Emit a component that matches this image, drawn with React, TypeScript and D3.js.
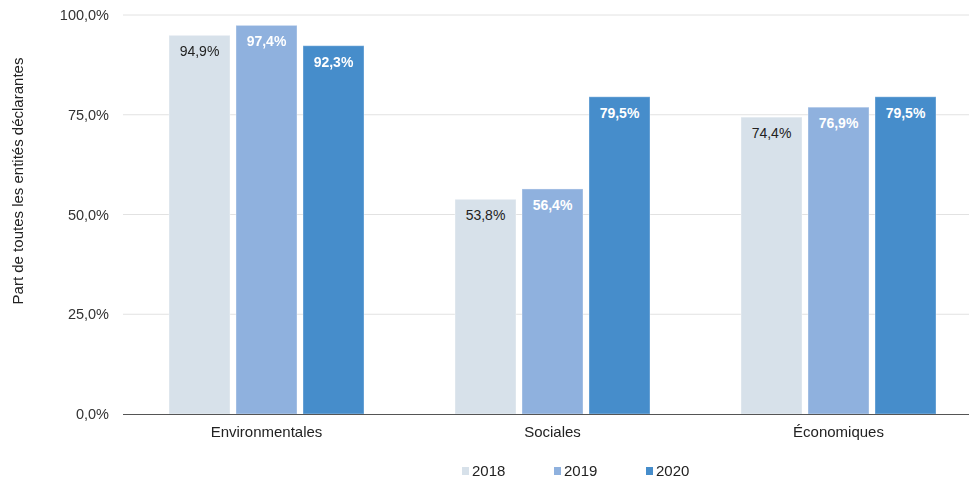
import React, { useEffect, useRef } from 'react'
import * as d3 from 'd3'

const categories = ['Environmentales', 'Sociales', 'Économiques']
const years = ['2018', '2019', '2020']
const values2018 = [94.9, 53.8, 74.4]
const values2019 = [97.4, 56.4, 76.9]
const values2020 = [92.3, 79.5, 79.5]
const yTicks = [0, 25, 50, 75, 100]

const colors = ['#d7e1ea', '#8fb1de', '#468dcb']
const labelColors = ['#222', '#fff', '#fff']

const fmt = (v: number) => v.toFixed(1).replace('.', ',') + '%'

const App: React.FC = () => {
  const svgRef = useRef<SVGSVGElement | null>(null)

  useEffect(() => {
    if (!svgRef.current) return
    const svg = d3.select(svgRef.current)
    svg.selectAll('*').remove()

    const width = 969
    const height = 478
    const series = [values2018, values2019, values2020]

    const y = d3.scaleLinear().domain([0, 100]).range([414, 15])
    const x0 = d3.scaleBand<string>().domain(categories).range([123.5, 981.5])
    const x1 = d3
      .scaleBand<string>()
      .domain(years)
      .range([45.5, 240.5])
      .paddingInner(6 / 67)

    svg
      .attr('width', width)
      .attr('height', height)
      .style('font-family', 'Liberation Sans, Arial, sans-serif')

    // gridlines
    svg
      .append('g')
      .selectAll('line')
      .data(yTicks.filter((t) => t > 0))
      .join('line')
      .attr('x1', 123)
      .attr('x2', width)
      .attr('y1', (d) => y(d))
      .attr('y2', (d) => y(d))
      .attr('stroke', '#e2e2e2')
      .attr('stroke-width', 1)

    // tick labels
    svg
      .append('g')
      .selectAll('text')
      .data(yTicks)
      .join('text')
      .attr('x', 109)
      .attr('y', (d) => y(d))
      .attr('dy', '0.35em')
      .attr('text-anchor', 'end')
      .attr('font-size', 14.5)
      .attr('fill', '#333')
      .text((d) => fmt(d))

    // y axis title
    svg
      .append('text')
      .attr('transform', 'translate(23,181) rotate(-90)')
      .attr('text-anchor', 'middle')
      .attr('font-size', 15)
      .attr('fill', '#222')
      .text('Part de toutes les entités déclarantes')

    // bars
    const groups = svg
      .append('g')
      .selectAll('g')
      .data(categories)
      .join('g')
      .attr('transform', (d) => `translate(${x0(d)},0)`)

    groups.each(function (cat, ci) {
      const g = d3.select(this)
      years.forEach((yr, si) => {
        const v = series[si][ci]
        g.append('rect')
          .attr('x', x1(yr)!)
          .attr('y', y(v))
          .attr('width', x1.bandwidth())
          .attr('height', y(0) - y(v))
          .attr('fill', colors[si])
          .attr('stroke', 'rgba(255,255,255,0.35)')
          .attr('stroke-width', 1)
        g.append('text')
          .attr('x', x1(yr)! + x1.bandwidth() / 2)
          .attr('y', y(v) + 21)
          .attr('text-anchor', 'middle')
          .attr('font-size', 14)
          .attr('font-weight', si === 0 ? 'normal' : 'bold')
          .attr('fill', labelColors[si])
          .text(fmt(v))
      })
    })

    // baseline
    svg
      .append('line')
      .attr('x1', 123)
      .attr('x2', width)
      .attr('y1', y(0) + 0.5)
      .attr('y2', y(0) + 0.5)
      .attr('stroke', '#555')
      .attr('stroke-width', 1)

    // category labels
    svg
      .append('g')
      .selectAll('text')
      .data(categories)
      .join('text')
      .attr('x', (d) => x0(d)! + x0.bandwidth() / 2)
      .attr('y', 437)
      .attr('text-anchor', 'middle')
      .attr('font-size', 15)
      .attr('fill', '#222')
      .text((d) => d)

    // legend
    const legend = svg
      .append('g')
      .selectAll('g')
      .data(years)
      .join('g')
      .attr('transform', (d, i) => `translate(${462 + i * 92},467)`)
    legend
      .append('rect')
      .attr('width', 7)
      .attr('height', 8)
      .attr('fill', (d, i) => colors[i])
    legend
      .append('text')
      .attr('x', 10)
      .attr('y', 9)
      .attr('font-size', 15)
      .attr('fill', '#222')
      .text((d) => d)
  }, [])

  return (
    <div style={{ position: 'fixed', top: 0, left: 0, width: 969, height: 478, overflow: 'hidden' }}>
      <svg ref={svgRef} style={{ display: 'block' }}></svg>
    </div>
  )
}

export default App
